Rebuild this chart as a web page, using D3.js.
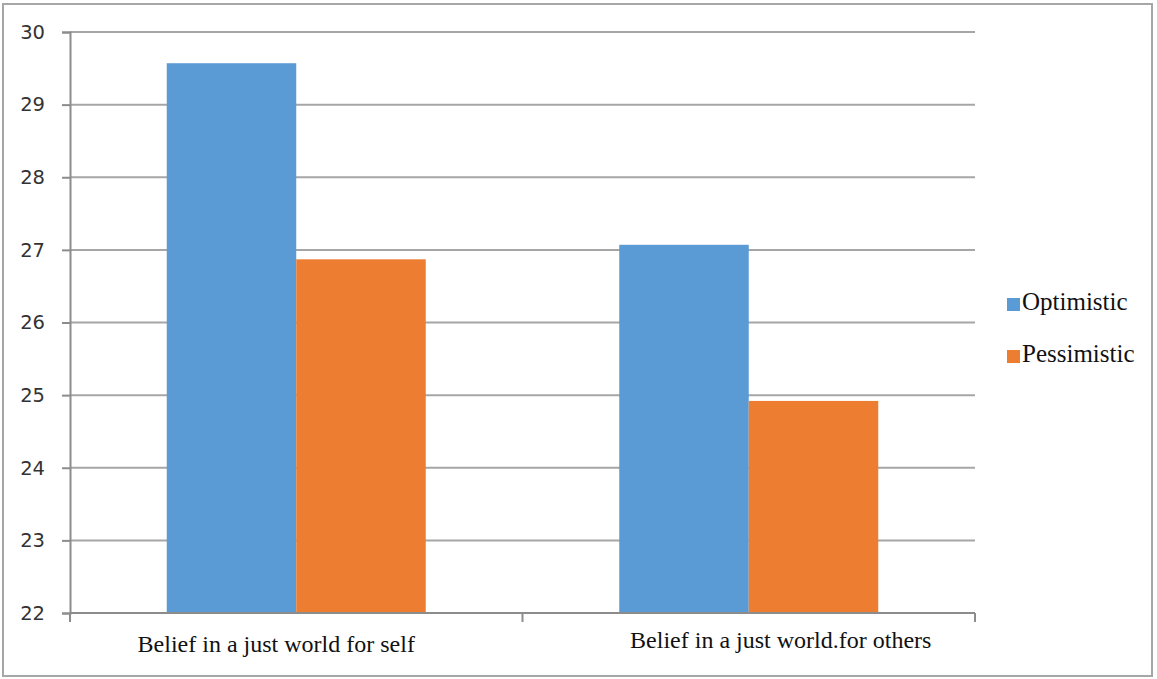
<!DOCTYPE html>
<html>
<head>
<meta charset="utf-8">
<script src="https://cdn.jsdelivr.net/npm/d3@7"></script>
<style>
  html, body { margin: 0; padding: 0; background: #fff; }
  svg { display: block; }
  .serif { font-family: "Liberation Serif", "Times New Roman", serif; }
  .sans { font-family: "DejaVu Sans", sans-serif; }
</style>
</head>
<body>
<svg id="chart" width="1157" height="679"></svg>
<script>
// Mean scores by belief dimension and outlook group
const categories = ["Belief in a just world for self", "Belief in a just world.for others"];
const seriesNames = ["Optimistic", "Pessimistic"];
const optimistic = [29.57, 27.07];
const pessimistic = [26.87, 24.92];
const yTicks = [22, 23, 24, 25, 26, 27, 28, 29, 30];
const colors = ["#5B9BD5", "#ED7D31"];

const svg = d3.select("#chart");

// chart frame
svg.append("rect")
  .attr("x", 3).attr("y", 4).attr("width", 1149).attr("height", 672)
  .attr("fill", "#fff").attr("stroke", "#a6a6a6").attr("stroke-width", 2);

const plot = { left: 70, right: 975, top: 32, bottom: 613 };

const y = d3.scaleLinear().domain([22, 30]).range([plot.bottom, plot.top]);
const x0 = d3.scaleBand().domain(categories).range([plot.left, plot.right])
  .paddingInner(0.4276).paddingOuter(0.2138);
const x1 = d3.scaleBand().domain(seriesNames).range([0, x0.bandwidth()]);

// horizontal gridlines
svg.append("g").selectAll("line").data(yTicks.slice(1)).join("line")
  .attr("x1", plot.left).attr("x2", plot.right)
  .attr("y1", d => y(d)).attr("y2", d => y(d))
  .attr("stroke", "#a6a6a6").attr("stroke-width", 2);

// bars
const rows = categories.map((c, i) => ({ cat: c, values: [optimistic[i], pessimistic[i]] }));
svg.append("g").selectAll("g").data(rows).join("g")
  .attr("transform", d => `translate(${x0(d.cat)},0)`)
  .selectAll("rect")
  .data(d => d.values.map((v, j) => ({ name: seriesNames[j], value: v, j })))
  .join("rect")
  .attr("x", d => x1(d.name))
  .attr("width", x1.bandwidth())
  .attr("y", d => y(d.value))
  .attr("height", d => y(22) - y(d.value))
  .attr("fill", d => colors[d.j]);

// y axis
const yAxis = svg.append("g")
  .attr("transform", `translate(${plot.left},0)`)
  .call(d3.axisLeft(y).tickValues(yTicks).tickSize(8).tickPadding(17).tickFormat(d3.format("d")));
yAxis.attr("font-family", null).attr("font-size", null);
yAxis.select(".domain").attr("stroke", "#8c8c8c").attr("stroke-width", 2);
yAxis.selectAll(".tick line").attr("stroke", "#8c8c8c").attr("stroke-width", 2);
yAxis.selectAll(".tick text")
  .attr("class", "sans")
  .style("font-size", "19.5px").attr("fill", "#333");

// x axis with boundary ticks between categories
const xAxisG = svg.append("g");
xAxisG.append("line")
  .attr("x1", plot.left).attr("x2", plot.right)
  .attr("y1", plot.bottom).attr("y2", plot.bottom)
  .attr("stroke", "#8c8c8c").attr("stroke-width", 2);
const bounds = [plot.left, ...categories.slice(1).map(c => x0(c) - x0.step() * x0.paddingInner() / 2), plot.right];
xAxisG.selectAll("line.tk").data(bounds).join("line")
  .attr("class", "tk")
  .attr("x1", d => d).attr("x2", d => d)
  .attr("y1", plot.bottom).attr("y2", plot.bottom + 9)
  .attr("stroke", "#8c8c8c").attr("stroke-width", 2);
// category labels sit a little off the group centres
const labelShift = [{ dx: -20, dy: 2 }, { dx: 32, dy: -2 }];
xAxisG.selectAll("text").data(categories).join("text")
  .attr("class", "serif")
  .attr("x", (d, i) => x0(d) + x0.bandwidth() / 2 + labelShift[i].dx)
  .attr("y", (d, i) => 650 + labelShift[i].dy)
  .attr("text-anchor", "middle")
  .style("font-size", "24px").attr("fill", "#111")
  .text(d => d);

// legend
const legend = svg.append("g").selectAll("g").data(seriesNames).join("g")
  .attr("transform", (d, i) => `translate(1007,${298 + i * 52})`);
legend.append("rect")
  .attr("width", 13).attr("height", 13)
  .attr("fill", (d, i) => colors[i]);
legend.append("text")
  .attr("class", "serif")
  .attr("x", 15).attr("y", 12)
  .style("font-size", "25px").attr("fill", "#111")
  .text(d => d);
</script>
</body>
</html>
